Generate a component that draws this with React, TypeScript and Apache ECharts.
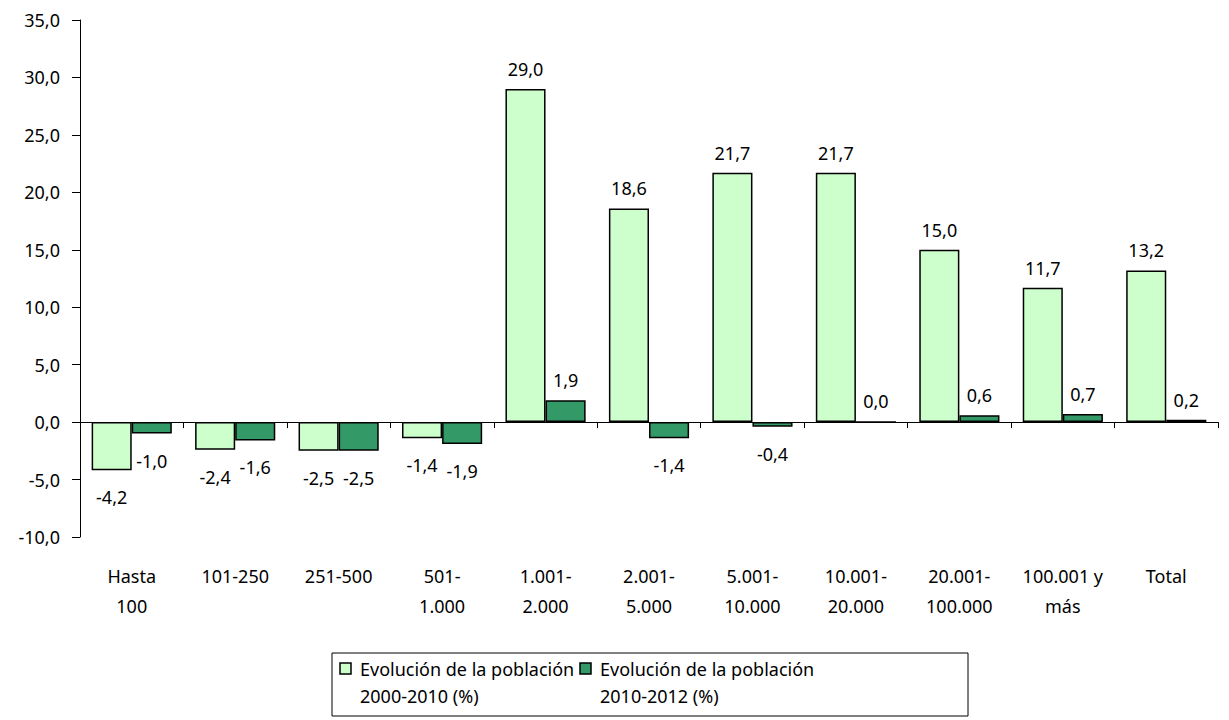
import React, { useEffect, useRef } from "react";
import * as echarts from "echarts";

const categories = [
  "Hasta\n100",
  "101-250",
  "251-500",
  "501-\n1.000",
  "1.001-\n2.000",
  "2.001-\n5.000",
  "5.001-\n10.000",
  "10.001-\n20.000",
  "20.001-\n100.000",
  "100.001 y\nmás",
  "Total",
];
const seriesA = [-4.2, -2.4, -2.5, -1.4, 29.0, 18.6, 21.7, 21.7, 15.0, 11.7, 13.2];
const seriesB = [-1.0, -1.6, -2.5, -1.9, 1.9, -1.4, -0.4, 0.0, 0.6, 0.7, 0.2];
const nameA = "Evolución de la población 2000-2010 (%)";
const nameB = "Evolución de la población 2010-2012 (%)";
const legendLines = [
  ["Evolución de la población", "2000-2010 (%)"],
  ["Evolución de la población", "2010-2012 (%)"],
];
const colors = ["#CCFFCC", "#339966"];
const yTicks = { min: -10, max: 35, interval: 5 };

const FONT = "'Noto Sans', sans-serif";
const FS = 18;
const fmt = (v: number) => v.toFixed(1).replace(".", ",");

function toData(vals: number[]) {
  return vals.map((v) => ({
    value: v,
    label: v < 0 ? { position: "bottom", distance: 18 } : { position: "top", distance: 11 },
  }));
}

export default function App() {
  const ref = useRef<HTMLDivElement>(null);
  useEffect(() => {
    document.body.style.margin = "0";
    if (!ref.current) return;
    const chart = echarts.init(ref.current, null, { renderer: "svg" });
    const labelCommon = {
      show: true,
      color: "#000",
      fontSize: FS,
      fontFamily: FONT,
      formatter: (p: any) => fmt(p.value),
    };
    const legendX = [340, 580];
    const legendGraphics: any[] = [
      {
        type: "rect",
        shape: { x: 332, y: 653, width: 636, height: 63 },
        style: { fill: "#fff", stroke: "#000", lineWidth: 1 },
      },
    ];
    legendX.forEach((x, i) => {
      legendGraphics.push({
        type: "rect",
        shape: { x: x, y: 663, width: 11, height: 11 },
        style: { fill: colors[i], stroke: "#000", lineWidth: 1.5 },
      });
      legendGraphics.push({
        type: "text",
        x: x + 20,
        y: 655,
        style: {
          text: legendLines[i].join("\n"),
          fill: "#000",
          fontSize: FS,
          fontFamily: FONT,
          lineHeight: 27,
        },
      });
    });
    chart.setOption({
      animation: false,
      textStyle: { fontFamily: FONT },
      grid: { left: 80, right: 11, top: 20, bottom: 183, containLabel: false },
      xAxis: {
        type: "category",
        data: categories,
        axisLine: { show: true, onZero: true, lineStyle: { color: "#000", width: 1 } },
        axisTick: { show: true, length: 6, lineStyle: { color: "#000" } },
        axisLabel: {
          color: "#000",
          fontSize: FS,
          fontFamily: FONT,
          lineHeight: 30,
          margin: 24,
          interval: 0,
        },
      },
      yAxis: {
        type: "value",
        min: yTicks.min,
        max: yTicks.max,
        interval: yTicks.interval,
        axisLine: { show: true, lineStyle: { color: "#000", width: 1 } },
        axisTick: { show: true, length: 8, lineStyle: { color: "#000" } },
        splitLine: { show: false },
        axisLabel: {
          color: "#000",
          fontSize: FS,
          fontFamily: FONT,
          margin: 20,
          formatter: (v: number) => fmt(v),
        },
      },
      legend: { show: false, data: [nameA, nameB] },
      graphic: legendGraphics,
      series: [
        {
          name: nameA,
          type: "bar",
          data: toData(seriesA),
          barGap: "0%",
          barCategoryGap: "22.5%",
          itemStyle: { color: colors[0], borderColor: "#000", borderWidth: 1.5 },
          label: labelCommon,
        },
        {
          name: nameB,
          type: "bar",
          data: toData(seriesB),
          itemStyle: { color: colors[1], borderColor: "#000", borderWidth: 1.5 },
          label: labelCommon,
        },
      ],
    });
    return () => chart.dispose();
  }, []);
  return <div ref={ref} style={{ width: 1229, height: 720 }} />;
}
